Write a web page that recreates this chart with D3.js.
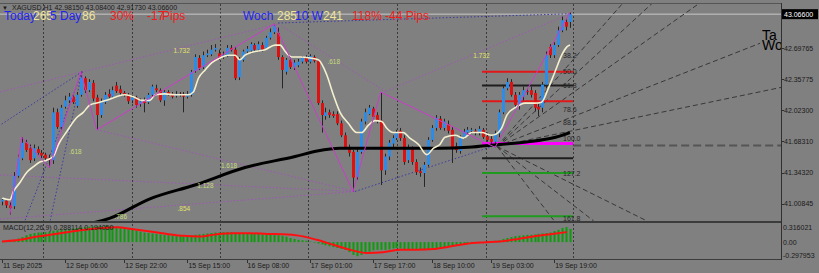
<!DOCTYPE html>
<html>
<head>
<meta charset="utf-8">
<script src="https://cdn.jsdelivr.net/npm/d3@7"></script>
<style>
body { margin: 0; background: #808080; }
svg text { font-family: "Liberation Sans", Arial, sans-serif; }
</style>
</head>
<body>
<svg id="chart" width="819" height="273"></svg>
<script>
// XAGUSD H1 candles
const open = [41.03,41.04,40.99,40.98,41.31,41.50,41.67,41.61,41.50,41.60,
  41.56,41.54,41.50,41.48,42.00,41.84,42.06,42.13,42.17,42.07,
  42.19,42.37,42.24,42.32,42.16,41.97,42.11,42.20,42.17,42.29,
  42.25,42.21,42.19,42.13,42.16,42.09,42.12,42.11,42.19,42.26,
  42.24,42.13,42.22,42.20,42.18,42.20,42.19,42.17,42.19,42.45,
  42.59,42.49,42.62,42.63,42.68,42.64,42.60,42.62,42.70,42.68,
  42.38,42.57,42.66,42.67,42.73,42.68,42.73,42.70,42.81,42.87,
  42.86,42.60,42.44,42.57,42.49,42.51,42.55,42.59,42.55,42.60,
  42.56,42.10,41.96,42.00,41.98,41.98,41.88,41.75,41.62,41.57,
  41.30,41.57,41.90,41.98,42.04,41.97,41.91,41.37,41.52,41.66,
  41.72,41.80,41.72,41.48,41.61,41.46,41.36,41.34,41.43,41.70,
  41.83,41.93,41.83,41.87,41.81,41.63,41.58,41.73,41.78,41.80,
  41.80,41.78,41.81,41.74,41.71,41.68,41.77,42.00,42.26,42.33,
  42.19,42.08,42.17,42.23,42.24,42.21,42.06,42.05,42.30,42.71,
  42.62,42.73,42.89,42.98,42.9815];
const high = [41.08,41.06,41.02,41.35,41.54,41.73,41.70,41.65,41.65,41.63,
  41.59,41.56,41.54,42.05,42.04,42.08,42.18,42.21,42.20,42.22,
  42.44,42.39,42.36,42.35,42.19,42.15,42.22,42.25,42.28,42.33,
  42.29,42.23,42.21,42.19,42.18,42.15,42.16,42.21,42.30,42.30,
  42.26,42.24,42.24,42.22,42.23,42.22,42.22,42.23,42.46,42.63,
  42.62,42.66,42.68,42.73,42.74,42.68,42.66,42.73,42.73,42.71,
  42.60,42.68,42.72,42.76,42.75,42.77,42.76,42.83,42.91,42.96,
  42.92,42.62,42.59,42.60,42.57,42.58,42.61,42.62,42.63,42.62,
  42.58,42.13,42.05,42.03,42.01,42.01,41.91,41.78,41.65,41.59,
  41.61,41.93,42.04,42.08,42.06,42.00,42.22,41.55,41.70,41.75,
  41.81,41.83,41.75,41.65,41.63,41.49,41.40,41.46,41.73,41.86,
  41.97,41.96,41.93,41.91,41.84,41.67,41.75,41.82,41.84,41.83,
  41.82,41.85,41.83,41.78,41.74,41.80,42.03,42.30,42.37,42.36,
  42.22,42.22,42.28,42.26,42.28,42.24,42.09,42.33,42.66,42.74,
  42.76,42.93,43.04,43.02,43.084];
const low = [40.99,40.96,40.89,40.95,41.29,41.48,41.57,41.45,41.47,41.54,
  41.50,41.48,41.40,41.44,41.82,41.81,42.04,42.10,42.09,42.05,
  42.17,42.21,42.22,42.12,41.81,41.94,42.09,42.15,42.15,42.21,
  42.19,42.17,42.09,42.10,42.05,42.06,42.00,42.09,42.17,42.22,
  42.11,42.07,42.18,42.15,42.16,42.17,42.00,42.15,42.17,42.43,
  42.46,42.47,42.60,42.61,42.66,42.57,42.58,42.60,42.66,42.35,
  42.35,42.55,42.63,42.64,42.66,42.66,42.66,42.68,42.79,42.85,
  42.57,42.26,42.41,42.47,42.46,42.49,42.53,42.53,42.53,42.54,
  42.08,41.78,41.92,41.94,41.94,41.86,41.73,41.60,41.52,41.14,
  41.27,41.55,41.87,41.97,41.93,41.88,41.21,41.32,41.48,41.62,
  41.70,41.69,41.43,41.45,41.43,41.32,41.30,41.19,41.41,41.68,
  41.80,41.81,41.80,41.77,41.45,41.56,41.55,41.71,41.75,41.77,
  41.75,41.75,41.71,41.68,41.65,41.62,41.73,41.98,42.24,42.17,
  42.05,42.03,42.13,42.19,42.16,42.01,41.96,42.00,42.26,42.59,
  42.59,42.71,42.87,42.89,42.9173];
const close = [41.05,40.99,40.96,41.31,41.50,41.67,41.59,41.48,41.61,41.56,
  41.53,41.50,41.48,42.00,41.84,42.05,42.13,42.17,42.11,42.19,
  42.38,42.24,42.33,42.15,41.97,42.11,42.19,42.17,42.24,42.23,
  42.21,42.19,42.12,42.16,42.08,42.12,42.10,42.19,42.28,42.24,
  42.13,42.22,42.20,42.17,42.20,42.19,42.17,42.20,42.44,42.60,
  42.48,42.62,42.64,42.68,42.70,42.59,42.62,42.70,42.68,42.37,
  42.57,42.66,42.69,42.74,42.68,42.74,42.68,42.81,42.87,42.94,
  42.60,42.46,42.57,42.49,42.54,42.55,42.59,42.55,42.61,42.56,
  42.10,41.97,42.00,41.97,41.96,41.88,41.75,41.62,41.56,41.29,
  41.57,41.90,42.00,42.05,41.95,41.91,41.37,41.52,41.67,41.72,
  41.78,41.72,41.46,41.61,41.46,41.35,41.34,41.43,41.70,41.83,
  41.94,41.83,41.90,41.80,41.61,41.59,41.72,41.79,41.81,41.81,
  41.79,41.82,41.73,41.70,41.68,41.77,42.00,42.26,42.33,42.19,
  42.08,42.19,42.24,42.22,42.19,42.05,42.03,42.30,42.62,42.62,
  42.73,42.89,43.00,42.93,43.066];

// fast moving average (cream line), [bar, price]
const maFast = [[0,41.07],[2,41.05],[2.9,41.14],[4.6,41.24],[6.3,41.35],[8,41.41],[9.6,41.46],
  [11.3,41.48],[13,41.52],[14.3,41.65],[16.4,41.79],[18.9,41.94],[20.6,42.00],[22.3,42.08],
  [24,42.10],[26.5,42.13],[29,42.17],[31.2,42.19],[33.3,42.17],[35.4,42.13],[37.5,42.13],
  [38.8,42.19],[41.3,42.20],[43.9,42.19],[47.2,42.19],[48.5,42.22],[49.8,42.37],[51.5,42.46],
  [53.2,42.54],[55.3,42.59],[57.4,42.62],[59.1,42.62],[60.3,42.57],[61.6,42.62],[64.1,42.66],
  [66.7,42.68],[69.2,42.73],[70.5,42.73],[71.8,42.66],[73.5,42.60],[75.6,42.60],[78.1,42.59],
  [80.2,42.57],[82.3,42.41],[84,42.19],[85.7,42.00],[87.8,41.88],[89.9,41.78],[91.2,41.78],
  [92.9,41.86],[94.6,41.91],[96.3,41.90],[97.5,41.83],[99.2,41.78],[101.7,41.78],[103.4,41.72],
  [105.6,41.65],[107.7,41.54],[109.4,41.61],[111,41.65],[112.3,41.73],[114.9,41.75],[117,41.72],
  [119.1,41.78],[121.6,41.78],[124.2,41.75],[125.8,41.78],[126.7,41.83],[128,41.97],[130.1,42.05],
  [132.6,42.10],[135.1,42.10],[136.8,42.11],[138.5,42.26],[140.2,42.44],[141.9,42.62],
  [143.2,42.71],[144,42.73]];

// slow moving average (thick black), [bar, price]
const maSlow = [[19.8,40.77],[27.4,40.85],[37.5,41.06],[48.9,41.21],[61.6,41.40],[74.3,41.52],
  [79.9,41.58],[85.7,41.61],[98.4,41.61],[111,41.61],[118.2,41.62],[125.8,41.65],
  [133.4,41.68],[139.5,41.72],[144,41.78]];

// zigzag swing points
const zigzag = [[2,40.89],[5,41.73],[12,41.40],[20,42.44],[24,41.81],[69,42.96],
  [89,41.14],[96,42.22],[125,41.62],[144,43.084]];

// MACD(12,26,9) histogram per bar and signal line
const macdMain = [0.01,0.02,0.03,0.05,0.08,0.11,0.15,0.18,0.20,
  0.21,0.21,0.22,0.23,0.25,0.26,0.27,0.28,
  0.29,0.30,0.31,0.32,0.33,0.34,0.34,0.35,
  0.35,0.36,0.35,0.35,0.34,0.33,
  0.31,0.29,0.27,0.25,0.23,0.21,0.20,0.19,
  0.18,0.17,0.16,0.15,0.14,0.13,0.13,0.12,
  0.13,0.15,0.16,0.17,0.18,0.19,0.20,0.21,
  0.21,0.22,0.22,0.22,0.21,0.20,0.20,0.20,
  0.19,0.19,0.18,0.17,0.16,0.16,0.16,0.15,
  0.14,0.12,0.09,0.07,0.05,0.04,0.03,0.01,
  -0.01,-0.03,-0.05,-0.07,-0.09,-0.11,-0.13,-0.15,
  -0.17,-0.22,-0.28,-0.31,-0.28,-0.24,-0.21,-0.18,
  -0.17,-0.17,-0.17,-0.16,-0.14,-0.13,-0.14,-0.15,
  -0.17,-0.17,-0.17,-0.17,-0.16,-0.16,-0.15,-0.14,
  -0.12,-0.11,-0.10,-0.09,-0.07,-0.06,-0.05,-0.04,
  -0.03,-0.02,-0.01,-0.01,0.00,0.01,0.03,0.04,
  0.07,0.09,0.11,0.13,0.14,0.15,0.16,0.16,
  0.17,0.18,0.19,0.20,0.21,0.24,0.27,0.31,
  0.33,0.29];
const macdSignal = [[0,0.014],[4.6,0.05],[7.9,0.108],[12.2,0.159],[16.4,0.216],[20.6,0.267],
  [24.8,0.303],[29.1,0.325],[33.3,0.281],[37.5,0.231],[41.8,0.18],[46,0.137],[50.2,0.123],
  [54.5,0.173],[58.6,0.195],[62.9,0.195],[67.2,0.18],[71.3,0.173],[75.6,0.137],[79.8,0.05],
  [84,-0.058],[88.2,-0.166],[92.5,-0.238],[96.6,-0.224],[100.9,-0.166],[105.1,-0.166],
  [109.4,-0.152],[113.6,-0.094],[117.9,-0.036],[122,-0.007],[126.3,0.014],[130.6,0.065],
  [134.7,0.123],[139,0.173],[143.2,0.22]];

// axis ticks
const priceTicks = [42.69765, 42.35775, 42.02300, 41.68310, 41.34320, 41.00845];
const lastPrice = 43.06600;
const macdTicks = [0.316021, 0, -0.297953];
const macdTickLabels = ["0.316021", "0.00", "-0.297953"];
const timeBars = [0, 16, 31, 47, 62, 78, 94, 109, 124, 140];
const timeLabels = ["11 Sep 2025", "12 Sep 06:00", "12 Sep 22:00", "15 Sep 15:00", "16 Sep 08:00",
  "17 Sep 01:00", "17 Sep 17:00", "18 Sep 10:00", "19 Sep 03:00", "19 Sep 19:00"];
const gridBars = [10.4, 33, 55.3, 77.6, 100.2, 122.7, 144.8];

// drawn objects
const dottedPurple = [
  [[-0.5,42.22],[70,42.96]],
  [[97.4,42.23],[144,43.07]],
  [[70,42.96],[97.4,42.22]],
  [[24.1,41.81],[89.5,41.14]],
  [[-0.5,41.32],[89.5,41.14]],
  [[-0.5,40.84],[89.5,41.14]]
];
const dottedNavy = [
  [[70,42.97],[144,43.07]],
  [[89.5,41.14],[125.8,41.65]],
  [[20.3,42.44],[-0.5,41.86]],
  [[20.3,42.44],[5.8,40.82]],
  [[20.3,42.44],[12.2,40.82]]
];
const fibLabels = [[".618",17,41.57],["1.732",43.5,42.67],[".786",28.5,40.87],[".854",44.5,40.95],
  ["1.128",49.5,41.20],["1.618",55.5,41.42],["1.732",119.5,42.61],[".618",82.5,42.55]];
const fibLevels = [[42.44,"#e01818",2],[42.29,"#1e1e1e",2],[42.12,"#e01818",2],[41.66,"#ff00ff",3],
  [41.50,"#1e1e1e",2],[41.34,"#1e9a1e",2],[40.87,"#1e9a1e",2]];
const fibLevelText = [["38.2",42.62],["50.0",42.44],["61.8",42.29],["78.6",42.03],["88.6",41.89],
  ["100.0",41.72],["127.2",41.33],["161.8",40.85]];
const fibSpan = [121.7, 144.8];
const fanOrigin = [125.5, 41.63];
const fanEnds = [[157.5,43.19],[165,43.19],[177,43.19],[192.2,42.75],[197.5,42.27],
  [163.5,40.82],[150,40.82],[140,40.82]];
const dashLevel = [41.64, 144.8, 197.5];

const svg = d3.select("#chart");
const axisX = 781;

let x = d3.scaleLinear().domain([0, 144]).range([2, 570]);
let y = d3.scaleLinear().domain([40.89, 43.11]).range([214.5, 10.1]);
let yM = d3.scaleLinear().domain([-0.297953, 0.316021]).range([255.7, 227.7]);

svg.append("rect").attr("width", 819).attr("height", 273).attr("fill", "#808080");

let defs = svg.append("defs");
defs.append("clipPath").attr("id", "cp").append("rect")
  .attr("x", 0).attr("y", 4).attr("width", axisX).attr("height", 217);
defs.append("clipPath").attr("id", "cm").append("rect")
  .attr("x", 0).attr("y", 223).attr("width", axisX).attr("height", 36);
defs.append("clipPath").attr("id", "cr").append("rect")
  .attr("x", 0).attr("y", 0).attr("width", axisX).attr("height", 221);

// grid
svg.append("g").selectAll("line").data(gridBars).enter().append("line")
  .attr("x1", d => Math.round(x(d)) + 0.5).attr("x2", d => Math.round(x(d)) + 0.5)
  .attr("y1", 4).attr("y2", 259)
  .attr("stroke", "#3a3a3a").attr("stroke-dasharray", "2,2");

let price = svg.append("g").attr("clip-path", "url(#cp)");

// current price line
price.append("line").attr("x1", 0).attr("x2", axisX)
  .attr("y1", y(lastPrice)).attr("y2", y(lastPrice))
  .attr("stroke", "#c8c8c8");

// dotted objects
price.selectAll(".dp").data(dottedPurple).enter().append("line")
  .attr("x1", d => x(d[0][0])).attr("y1", d => y(d[0][1]))
  .attr("x2", d => x(d[1][0])).attr("y2", d => y(d[1][1]))
  .attr("stroke", "#a055b8").attr("stroke-dasharray", "1.5,2");
price.selectAll(".dn").data(dottedNavy).enter().append("line")
  .attr("x1", d => x(d[0][0])).attr("y1", d => y(d[0][1]))
  .attr("x2", d => x(d[1][0])).attr("y2", d => y(d[1][1]))
  .attr("stroke", "#3c3ca0").attr("stroke-dasharray", "1.5,2");

// fibonacci fan
price.selectAll(".fan").data(fanEnds).enter().append("line")
  .attr("x1", x(fanOrigin[0])).attr("y1", y(fanOrigin[1]))
  .attr("x2", d => x(d[0])).attr("y2", d => y(d[1]))
  .attr("stroke", "#383838").attr("stroke-dasharray", "5,3");
price.append("line")
  .attr("x1", x(dashLevel[1])).attr("x2", x(dashLevel[2]))
  .attr("y1", y(dashLevel[0])).attr("y2", y(dashLevel[0]))
  .attr("stroke", "#555").attr("stroke-width", 2).attr("stroke-dasharray", "8,4");

// fib levels
price.selectAll(".fl").data(fibLevels).enter().append("line")
  .attr("x1", x(fibSpan[0])).attr("x2", x(fibSpan[1]))
  .attr("y1", d => y(d[0])).attr("y2", d => y(d[0]))
  .attr("stroke", d => d[1]).attr("stroke-width", d => d[2]);
price.selectAll(".ft").data(fibLevelText).enter().append("text")
  .attr("x", 563).attr("y", d => y(d[1]))
  .attr("dy", "0.35em").attr("font-size", 7).attr("fill", "#262626")
  .text(d => d[0]);

// candles
let bars = d3.range(open.length);
price.selectAll(".wick").data(bars).enter().append("line")
  .attr("x1", i => Math.round(x(i)) + 0.5).attr("x2", i => Math.round(x(i)) + 0.5)
  .attr("y1", i => y(high[i])).attr("y2", i => y(low[i]))
  .attr("stroke", "#262626");
price.selectAll(".body").data(bars).enter().append("rect")
  .attr("x", i => Math.round(x(i)) - 1)
  .attr("width", 3)
  .attr("y", i => y(Math.max(open[i], close[i])))
  .attr("height", i => Math.max(1, Math.abs(y(open[i]) - y(close[i]))))
  .attr("fill", i => close[i] >= open[i] ? "#2d8ce8" : "#dc1212");

// moving averages
let line = d3.line().x(d => x(d[0])).y(d => y(d[1])).curve(d3.curveMonotoneX);
price.append("path").attr("d", line(maSlow)).attr("fill", "none")
  .attr("stroke", "#000").attr("stroke-width", 3);
price.append("path").attr("d", line(maFast)).attr("fill", "none")
  .attr("stroke", "#f4efcf").attr("stroke-width", 1.6);

// zigzag
price.append("path").attr("d", d3.line().x(d => x(d[0])).y(d => y(d[1]))(zigzag))
  .attr("fill", "none").attr("stroke", "#cc3ccc");

// fib expansion labels
price.selectAll(".fx").data(fibLabels).enter().append("text")
  .attr("x", d => x(d[1])).attr("y", d => y(d[2]))
  .attr("dy", "0.35em").attr("font-size", 6.5)
  .attr("fill", d => d[0] === "1.732" || d[0] === ".854" ? "#e2e06a" : "#c4dc7c")
  .text(d => d[0]);

// info texts
function put(g, tx, tyy, str, col, size) {
  g.append("text").attr("x", tx).attr("y", tyy).attr("font-size", size).attr("fill", col).text(str);
}
let info = svg.append("g").attr("clip-path", "url(#cr)");
put(info, 4, 19.5, "Today", "#2323f0", 12);
put(info, 33, 19.5, "265", "#efe49a", 12);
put(info, 50, 19.5, "5 Day", "#2323f0", 12);
put(info, 82, 19.5, "86", "#efe49a", 12);
put(info, 110, 19.5, "30%", "#f01c1c", 12);
put(info, 147, 19.5, "-17", "#f01c1c", 12);
put(info, 162, 19.5, "Pips", "#f01c1c", 12);
put(info, 243, 19.5, "Woch", "#2323f0", 12);
put(info, 277, 19.5, "285", "#efe49a", 12);
put(info, 295, 19.5, "10 W", "#2323f0", 12);
put(info, 323, 19.5, "241", "#efe49a", 12);
put(info, 352, 19.5, "118%", "#f01c1c", 12);
put(info, 385, 19.5, "-44 Pips", "#f01c1c", 12);
put(info, 762, 40, "Ta", "#000", 14);
put(info, 762, 50, "Wo", "#000", 14);

put(svg, 2, 9.5, "\u25BC", "#1a1a1a", 6);
put(svg, 12, 9.5, "XAGUSD,H1  42.98150 43.08400 42.91730 43.06600", "#1a1a1a", 7);

// MACD pane
let macd = svg.append("g").attr("clip-path", "url(#cm)");
macd.selectAll("rect").data(bars).enter().append("rect")
  .attr("x", i => Math.round(x(i)) - 0.5).attr("width", 2)
  .attr("y", i => Math.min(yM(0), yM(macdMain[i])))
  .attr("height", i => Math.abs(yM(macdMain[i]) - yM(0)))
  .attr("fill", "#0c9c0c");
macd.append("path")
  .attr("d", d3.line().x(d => x(d[0])).y(d => yM(d[1])).curve(d3.curveMonotoneX)(macdSignal))
  .attr("fill", "none").attr("stroke", "#ff1010").attr("stroke-width", 2);
put(svg, 3, 230, "MACD(12,26,9) 0.288114 0.194050", "#1a1a1a", 7);

// frame
svg.append("line").attr("x1", 0).attr("x2", axisX).attr("y1", 3.5).attr("y2", 3.5).attr("stroke", "#555");
svg.append("rect").attr("x", 0).attr("y", 221).attr("width", axisX).attr("height", 2).attr("fill", "#3c3c3c");
svg.append("line").attr("x1", 0).attr("x2", axisX).attr("y1", 259.5).attr("y2", 259.5).attr("stroke", "#3c3c3c");
svg.append("line").attr("x1", axisX + 0.5).attr("x2", axisX + 0.5).attr("y1", 3).attr("y2", 260).attr("stroke", "#303030");

// price axis
let pa = svg.append("g");
pa.selectAll("line").data(priceTicks).enter().append("line")
  .attr("x1", axisX).attr("x2", axisX + 3)
  .attr("y1", d => Math.round(y(d)) + 0.5).attr("y2", d => Math.round(y(d)) + 0.5)
  .attr("stroke", "#303030");
pa.selectAll("text").data(priceTicks).enter().append("text")
  .attr("x", 784).attr("y", d => y(d)).attr("dy", "0.35em")
  .attr("font-size", 7).attr("fill", "#1a1a1a")
  .text(d => d.toFixed(5));
pa.append("rect").attr("x", 782).attr("y", y(lastPrice) - 5).attr("width", 36).attr("height", 10).attr("fill", "#000");
pa.append("text").attr("x", 784).attr("y", y(lastPrice)).attr("dy", "0.35em")
  .attr("font-size", 7).attr("fill", "#fff").text(lastPrice.toFixed(5));

// macd axis
let ma = svg.append("g");
ma.selectAll("text").data(macdTicks).enter().append("text")
  .attr("x", 783).attr("y", d => yM(d)).attr("dy", "0.35em")
  .attr("font-size", 7).attr("fill", "#1a1a1a")
  .text((d, k) => macdTickLabels[k]);

// time axis
let ta = svg.append("g");
ta.selectAll("line").data(timeBars).enter().append("line")
  .attr("x1", d => Math.round(x(d)) + 0.5).attr("x2", d => Math.round(x(d)) + 0.5)
  .attr("y1", 260).attr("y2", 263).attr("stroke", "#303030");
ta.selectAll("text").data(timeBars).enter().append("text")
  .attr("x", d => x(d) + 1).attr("y", 267.5)
  .attr("font-size", 7).attr("fill", "#1a1a1a")
  .text((d, k) => timeLabels[k]);
</script>
</body>
</html>
